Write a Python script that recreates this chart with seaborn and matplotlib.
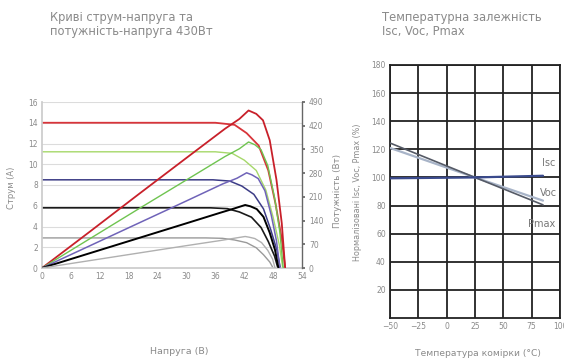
import matplotlib
matplotlib.use("Agg")
import matplotlib.pyplot as plt
import seaborn as sns
import pandas as pd

sns.set_theme(style="white")
plt.rcParams['font.family'] = ['DejaVu Sans']

# ---------------- data: I-V and P-V curves (left chart) ----------------
x_ticks_v = [0, 6, 12, 18, 24, 30, 36, 42, 48, 54]
y_ticks_i = [0, 2, 4, 6, 8, 10, 12, 14, 16]
y_ticks_p = [0, 70, 140, 210, 280, 350, 420, 490]

iv_v_red = [0, 10, 20, 30, 36, 40, 42.5, 45, 47, 48.5, 49.8, 50.5]
iv_i_red = [14.0, 14.0, 14.0, 14.0, 14.0, 13.8, 13.0, 11.8, 9.4, 6.2, 2.8, 0]
iv_v_green = [0, 10, 20, 30, 36, 39.5, 42, 44.5, 46.5, 48, 49.3, 50.0]
iv_i_green = [11.2, 11.2, 11.2, 11.2, 11.2, 11.05, 10.4, 9.4, 7.5, 4.9, 2.2, 0]
iv_v_blue = [0, 10, 20, 30, 35.5, 39, 41.5, 44, 46, 47.5, 48.8, 49.5]
iv_i_blue = [8.5, 8.5, 8.5, 8.5, 8.5, 8.38, 7.9, 7.1, 5.7, 3.7, 1.7, 0]
iv_v_black = [0, 10, 20, 30, 35, 38.5, 41, 43.5, 45.5, 47, 48.3, 49]
iv_i_black = [5.8, 5.8, 5.8, 5.8, 5.8, 5.72, 5.4, 4.9, 3.9, 2.55, 1.15, 0]
iv_v_gray = [0, 10, 20, 30, 34, 37.5, 40, 42.5, 44.5, 46, 47.3, 48]
iv_i_gray = [2.9, 2.9, 2.9, 2.9, 2.9, 2.86, 2.7, 2.44, 1.95, 1.28, 0.58, 0]

pv_v_red = [0, 10, 20, 30, 38, 41, 42.9, 44.5, 45.9, 47.3, 48.7, 49.8, 50.5]
pv_p_red = [0, 108, 217, 325, 411, 440, 465, 455, 436, 377, 260, 132, 0]
pv_v_green = [0, 10, 20, 30, 38, 41, 42.9, 44.2, 45.5, 46.9, 48.3, 49.4, 50.1]
pv_p_green = [0, 87, 174, 260, 329, 352, 372, 364, 349, 302, 208, 106, 0]
pv_v_blue = [0, 10, 20, 30, 37.5, 40.5, 42.5, 43.6, 44.9, 46.3, 47.6, 48.7, 49.4]
pv_p_blue = [0, 66, 132, 198, 248, 265, 281, 275, 264, 228, 157, 80, 0]
pv_v_black = [0, 10, 20, 30, 37, 40, 42.2, 43.3, 44.6, 46, 47.3, 48.4, 49.1]
pv_p_black = [0, 44, 88, 132, 163, 176, 186, 182, 174, 151, 104, 53, 0]
pv_v_gray = [0, 10, 20, 30, 37, 40, 42.2, 43, 44.2, 45.6, 46.9, 47.9, 48.4]
pv_p_gray = [0, 22, 44, 66, 81, 88, 93, 91, 87, 75, 52, 26, 0]

# ---------------- data: temperature dependence (right chart) ----------------
temp_ticks = [-50, -25, 0, 25, 50, 75, 100]
norm_ticks = [20, 40, 60, 80, 100, 120, 140, 160, 180]
temp_c = [-50, 25, 85]
isc_pct = [99.4, 100, 101.2]
voc_pct = [121, 100, 83.5]
pmax_pct = [124.5, 100, 80.5]

TXT = "#8a8a8a"
TICK = 5.5

fig = plt.figure(figsize=(5.64, 3.60), dpi=100)

# ---------------- left chart ----------------
ax1 = fig.add_axes([42 / 564, 1 - 268 / 360, 260 / 564, 166 / 360])
ax2 = ax1.twinx()

iv_sets = [
    (iv_v_red, iv_i_red, "#d8343a", 1.3),
    (iv_v_green, iv_i_green, "#a6d86a", 1.0),
    (iv_v_blue, iv_i_blue, "#3c3c86", 1.1),
    (iv_v_black, iv_i_black, "#1a1a1a", 1.2),
    (iv_v_gray, iv_i_gray, "#9a9a9a", 1.0),
]
pv_sets = [
    (pv_v_red, pv_p_red, "#c8202a", 1.3),
    (pv_v_green, pv_p_green, "#6fc450", 1.0),
    (pv_v_blue, pv_p_blue, "#6f63b8", 1.1),
    (pv_v_black, pv_p_black, "#000000", 1.4),
    (pv_v_gray, pv_p_gray, "#b0b0b0", 1.0),
]

for yv in y_ticks_i[1:]:
    ax1.axhline(yv, color="#dcdcdc", lw=0.8, zorder=0)

for v, i, c, lw in iv_sets:
    df = pd.DataFrame({"V": v, "I": i})
    sns.lineplot(data=df, x="V", y="I", ax=ax1, color=c, lw=lw, sort=False, estimator=None)
for v, p, c, lw in pv_sets:
    df = pd.DataFrame({"V": v, "P": p})
    sns.lineplot(data=df, x="V", y="P", ax=ax2, color=c, lw=lw, sort=False, estimator=None)

ax1.set_xlim(0, 54)
ax1.set_ylim(0, 16)
ax2.set_ylim(0, 490)
ax1.set_xticks(x_ticks_v)
ax1.set_yticks(y_ticks_i)
ax2.set_yticks(y_ticks_p)
ax1.set_xlabel("")
ax1.set_ylabel("")
ax2.set_ylabel("")
for a in (ax1, ax2):
    a.tick_params(labelsize=TICK, colors=TXT, length=0, pad=3)
    for s in a.spines.values():
        s.set_visible(False)
ax2.spines["right"].set_visible(True)
ax2.spines["right"].set_color("#666666")
ax2.spines["right"].set_linewidth(1.0)
ax1.spines["left"].set_visible(True)
ax1.spines["left"].set_color("#cccccc")
ax1.spines["bottom"].set_visible(True)
ax1.spines["bottom"].set_color("#cccccc")
ax2.tick_params(axis="y", length=2, color="#666666")

fig.text(50 / 564, 1 - 11 / 360, "Криві струм-напруга та\nпотужність-напруга 430Вт",
         fontsize=8.3, color=TXT, ha="left", va="top", linespacing=1.15)
fig.text(12 / 564, 1 - 188 / 360, "Струм (А)", rotation=90, fontsize=6,
         color=TXT, ha="center", va="center")
fig.text(338 / 564, 1 - 191 / 360, "Потужність (Вт)", rotation=90, fontsize=6.3,
         color=TXT, ha="center", va="center")
fig.text(179 / 564, 1 - 352 / 360, "Напруга (В)", fontsize=6.8, color=TXT,
         ha="center", va="center")

# ---------------- right chart ----------------
ax3 = fig.add_axes([390 / 564, 1 - 318 / 360, 170 / 564, 253 / 360])
ax3.set_xlim(-50, 100)
ax3.set_ylim(0, 180)
ax3.set_xticks(temp_ticks)
ax3.set_yticks(norm_ticks)
ax3.grid(True, color="#222222", lw=1.3)
ax3.set_axisbelow(True)
for s in ax3.spines.values():
    s.set_color("#222222")
    s.set_linewidth(1.3)
ax3.tick_params(labelsize=TICK, colors=TXT, length=0, pad=3)

df_t = pd.DataFrame({"T": temp_c, "Isc": isc_pct, "Voc": voc_pct, "Pmax": pmax_pct})
sns.lineplot(data=df_t, x="T", y="Voc", ax=ax3, color="#a8b4c8", lw=1.6, zorder=3)
sns.lineplot(data=df_t, x="T", y="Pmax", ax=ax3, color="#555a66", lw=1.2, zorder=4)
sns.lineplot(data=df_t, x="T", y="Isc", ax=ax3, color="#3a4a8c", lw=1.6, zorder=5)
ax3.set_xlabel("")
ax3.set_ylabel("")

ax3.text(90, 110, "Isc", fontsize=7, color="#777777", ha="center", va="center")
ax3.text(90, 89, "Voc", fontsize=7, color="#777777", ha="center", va="center")
ax3.text(84, 67, "Pmax", fontsize=7, color="#777777", ha="center", va="center")

fig.text(382 / 564, 1 - 11 / 360, "Температурна залежність\nIsc, Voc, Pmax",
         fontsize=8.3, color=TXT, ha="left", va="top", linespacing=1.15)
fig.text(358 / 564, 1 - 192 / 360, "Нормалізовані Isc, Voc, Pmax (%)", rotation=90,
         fontsize=5.8, color=TXT, ha="center", va="center")
fig.text(478 / 564, 1 - 353 / 360, "Температура комірки (°C)", fontsize=6.6,
         color=TXT, ha="center", va="center")

fig.savefig("out.png", dpi=100)
